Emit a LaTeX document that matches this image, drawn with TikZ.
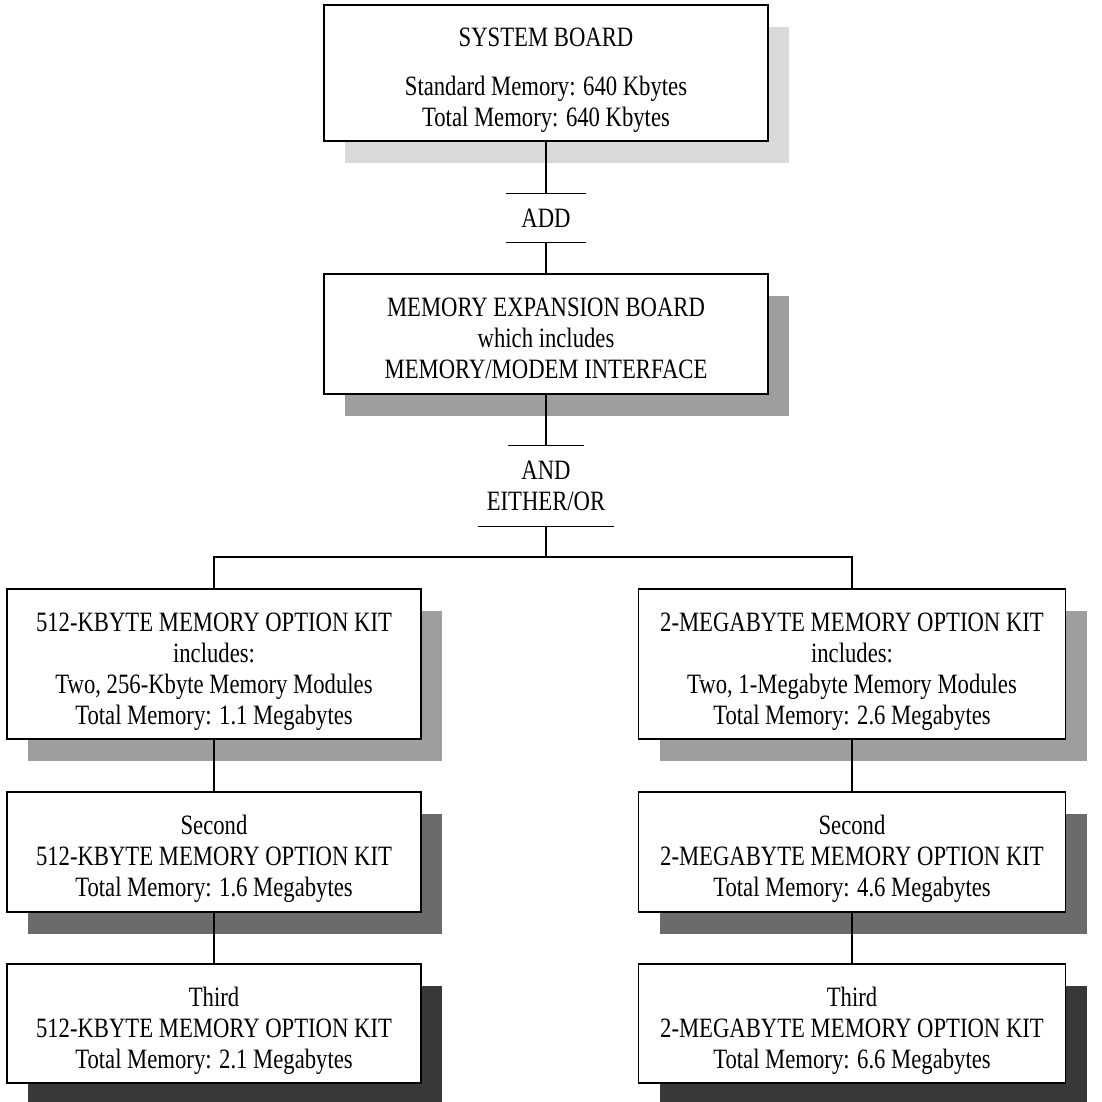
\documentclass[tikz,border=0pt]{standalone}
\usepackage{fontspec}
\setmainfont{Liberation Serif}[FakeStretch=0.81]
\usetikzlibrary{shadows}
\newcommand{\lift}{\rule{0pt}{27pt}}
\begin{document}
\begin{tikzpicture}[x=1pt, y=-1pt, line width=1.2pt, font=\fontsize{28}{31}\selectfont]
  \tikzstyle{board}=[draw, fill=white, align=center, minimum width=444pt, text depth=0pt]
  \tikzstyle{kit}=[board, minimum height=150pt]
  \tikzstyle{bar}=[align=center, inner sep=0pt]
  \tikzstyle{light}=[drop shadow={shadow xshift=21pt, shadow yshift=-22pt, fill=black!15, opacity=1}]
  \tikzstyle{mid}=[drop shadow={shadow xshift=21pt, shadow yshift=-22pt, fill=black!38, opacity=1}]
  \tikzstyle{dark}=[drop shadow={shadow xshift=21pt, shadow yshift=-22pt, fill=black!58, opacity=1}]
  \tikzstyle{darker}=[drop shadow={shadow xshift=21pt, shadow yshift=-22pt, fill=black!78, opacity=1}]
  \useasboundingbox (0,0) rectangle (1102,1101);
  % Top of the tree
  \node[board, light, minimum height=136pt] (sys) at (546,73)
    {\lift SYSTEM BOARD\\[18pt]Standard Memory: 640 Kbytes\\Total Memory: 640 Kbytes};
  \node[bar, minimum width=78pt, minimum height=48pt] (add) at (546,218) {ADD};
  \node[board, mid, minimum height=120pt] (exp) at (546,334)
    {\lift MEMORY EXPANSION BOARD\\which includes\\MEMORY/MODEM INTERFACE};
  \node[bar, minimum width=134pt, minimum height=80pt] (andor) at (546,486) {AND\\EITHER/OR};
  \coordinate (split) at (546,557);
  % Left column
  \node[kit, mid, minimum width=414pt] (l1) at (214,664)
    {\lift 512-KBYTE MEMORY OPTION KIT\\includes:\\Two, 256-Kbyte Memory Modules\\Total Memory: 1.1 Megabytes};
  \node[board, dark, minimum width=414pt, minimum height=120pt] (l2) at (214,852)
    {\lift Second\\512-KBYTE MEMORY OPTION KIT\\Total Memory: 1.6 Megabytes};
  \node[board, darker, minimum width=414pt, minimum height=119pt] (l3) at (214,1023.5)
    {\lift Third\\512-KBYTE MEMORY OPTION KIT\\Total Memory: 2.1 Megabytes};
  % Right column
  \node[kit, mid, minimum width=427pt] (r1) at (852,664)
    {\lift 2-MEGABYTE MEMORY OPTION KIT\\includes:\\Two, 1-Megabyte Memory Modules\\Total Memory: 2.6 Megabytes};
  \node[board, dark, minimum width=427pt, minimum height=120pt] (r2) at (852,852)
    {\lift Second\\2-MEGABYTE MEMORY OPTION KIT\\Total Memory: 4.6 Megabytes};
  \node[board, darker, minimum width=427pt, minimum height=119pt] (r3) at (852,1023.5)
    {\lift Third\\2-MEGABYTE MEMORY OPTION KIT\\Total Memory: 6.6 Megabytes};
  % Bars round the joining words
  \draw (add.north west) -- (add.north east);
  \draw (add.south west) -- (add.south east);
  \draw ([xshift=-38pt]andor.north) -- ([xshift=38pt]andor.north);
  \draw (andor.south west) -- (andor.south east);
  % Connect them
  \foreach \from/\to in {sys/add,add/exp,exp/andor,andor/split,l1/l2,l2/l3,r1/r2,r2/r3}
    \draw (\from) -- (\to);
  \draw (split) -| (l1);
  \draw (split) -| (r1);
\end{tikzpicture}
\end{document}
